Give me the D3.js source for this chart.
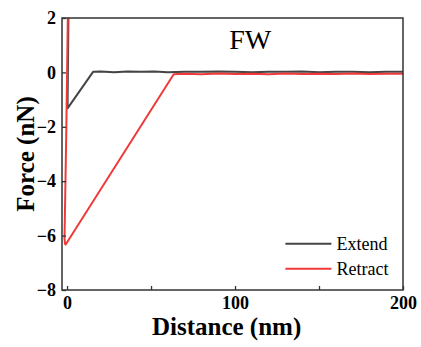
<!DOCTYPE html>
<html>
<head>
<meta charset="utf-8">
<script src="https://cdn.jsdelivr.net/npm/d3@7"></script>
<style>
  body { margin: 0; background: #fff; }
  text { font-family: "Liberation Serif", "Times New Roman", serif; }
</style>
</head>
<body>
<svg id="vis" width="421" height="347"></svg>
<script>
// force curves
let extendX = [0.9, 0.3, 15.5, 20, 28, 36, 44, 52, 60, 70, 80, 90, 100, 110, 120, 130, 140, 150, 160, 170, 180, 190, 200];
let extendY = [2.6, -1.32, 0.02, 0.03, 0.01, 0.03, 0.02, 0.03, 0.01, 0.02, 0.02, 0.03, 0.02, 0.01, 0.02, 0.02, 0.03, 0.01, 0.02, 0.02, 0.01, 0.02, 0.02];
let retractX = [0.6, -0.4, -1.2, -1.5, -1.2, -0.8, 63.5, 70, 80, 90, 100, 110, 120, 130, 140, 150, 160, 170, 180, 190, 200];
let retractY = [2.6, -2.0, -5.0, -6.1, -6.3, -6.33, -0.07, -0.05, -0.07, -0.04, -0.06, -0.05, -0.07, -0.04, -0.06, -0.05, -0.06, -0.04, -0.06, -0.05, -0.05];

let xTicks = [0, 50, 100, 150, 200];
let xLabels = [0, 100, 200];
let yTicks = [-8, -6, -4, -2, 0, 2];

let series = [
    {name: "Extend", xs: extendX, ys: extendY, color: "#444444"},
    {name: "Retract", xs: retractX, ys: retractY, color: "#f03a3a"}
];

let margin = {top: 18, right: 18, bottom: 57, left: 62};
let svg = d3.select("#vis");
let width = +svg.attr("width") - margin.left - margin.right;
let height = +svg.attr("height") - margin.top - margin.bottom;
let g = svg.append("g").attr("transform", `translate(${margin.left}, ${margin.top})`);

let x = d3.scaleLinear().domain([-3, 200]).range([0, width]);
let y = d3.scaleLinear().domain([-8, 2]).range([height, 0]);

g.append("clipPath").attr("id", "clip")
    .append("rect").attr("width", width).attr("height", height);

// curves
let line = d3.line().x(d => x(d[0])).y(d => y(d[1]));
series.forEach(s => {
    let pts = s.xs.map((v, i) => [v, s.ys[i]]);
    g.append("path")
        .datum(pts)
        .attr("clip-path", "url(#clip)")
        .attr("fill", "none")
        .attr("stroke", s.color)
        .attr("stroke-width", 2)
        .attr("stroke-linejoin", "round")
        .attr("d", line);
});

// frame
g.append("rect")
    .attr("width", width).attr("height", height)
    .attr("fill", "none").attr("stroke", "#333").attr("stroke-width", 1.5);

// x axis, ticks inward
let xAxis = g.append("g")
    .attr("transform", `translate(0, ${height})`)
    .call(d3.axisBottom(x).tickValues(xTicks).tickSizeInner(-4).tickSizeOuter(0)
        .tickFormat(d => xLabels.includes(d) ? d : ""));
xAxis.select(".domain").remove();
xAxis.selectAll("line").attr("stroke", "#333").attr("stroke-width", 1.3);
xAxis.selectAll("text")
    .attr("y", 6).attr("dy", "0.71em")
    .attr("fill", "#000")
    .style("font-family", "Liberation Serif")
    .style("font-weight", "bold")
    .style("font-size", "18px");

// y axis, ticks inward
let yAxis = g.append("g")
    .call(d3.axisLeft(y).tickValues(yTicks).tickSizeInner(-4).tickSizeOuter(0));
yAxis.select(".domain").remove();
yAxis.selectAll("line").attr("stroke", "#333").attr("stroke-width", 1.3);
yAxis.selectAll("text")
    .attr("x", -6)
    .attr("fill", "#000")
    .style("font-family", "Liberation Serif")
    .style("font-weight", "bold")
    .style("font-size", "18px");

// axis titles
svg.append("text")
    .attr("x", margin.left + x(95))
    .attr("y", 335)
    .attr("text-anchor", "middle")
    .style("font-weight", "bold")
    .style("font-size", "25px")
    .text("Distance (nm)");

svg.append("text")
    .attr("transform", `translate(34, ${margin.top + y(-3)}) rotate(-90)`)
    .attr("text-anchor", "middle")
    .style("font-weight", "bold")
    .style("font-size", "25px")
    .text("Force (nN)");

// panel label
g.append("text")
    .attr("x", x(109))
    .attr("y", 31)
    .attr("text-anchor", "middle")
    .style("font-size", "28px")
    .text("FW");

// legend
let legend = g.append("g").attr("transform", `translate(${x(130)}, ${y(-6.3)})`);
series.forEach((s, i) => {
    let row = legend.append("g").attr("transform", `translate(0, ${i * 25})`);
    row.append("line")
        .attr("x1", 0).attr("x2", 46)
        .attr("stroke", s.color).attr("stroke-width", 2);
    row.append("text")
        .attr("x", 51).attr("y", 6)
        .style("font-size", "18px")
        .text(s.name);
});
</script>
</body>
</html>
